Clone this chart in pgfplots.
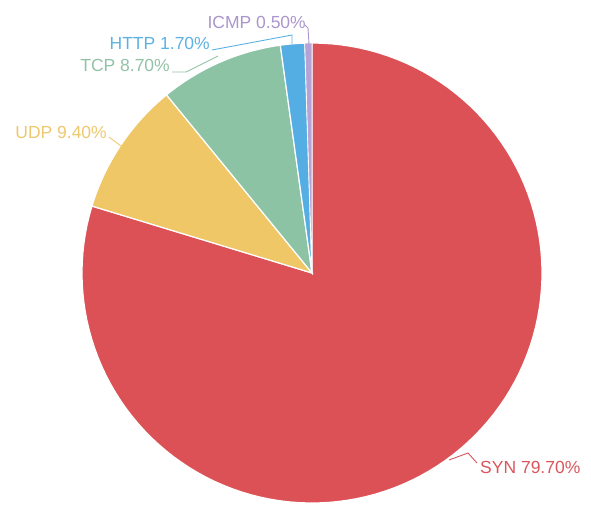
\documentclass[border=0pt]{standalone}
\usepackage{pgfplots}
\pgfplotsset{compat=1.18}
\usepackage{fontspec}
\setmainfont{Liberation Sans}
\definecolor{cSYN}{HTML}{DB5155}
\definecolor{cUDP}{HTML}{EFC767}
\definecolor{cTCP}{HTML}{8DC3A5}
\definecolor{cHTTP}{HTML}{55AEE3}
\definecolor{cICMP}{HTML}{B6A2D4}
\definecolor{tSYN}{HTML}{D8565C}
\definecolor{tUDP}{HTML}{EDC86E}
\definecolor{tTCP}{HTML}{92C2A6}
\definecolor{tHTTP}{HTML}{5CB2E2}
\definecolor{tICMP}{HTML}{AA96CC}
% shares in percent
\def\pSYN{79.7}
\def\pUDP{9.4}
\def\pTCP{8.7}
\def\pHTTP{1.7}
\def\pICMP{0.5}
\pgfmathsetmacro{\aA}{90}
\pgfmathsetmacro{\aB}{\aA-3.6*\pSYN}
\pgfmathsetmacro{\aC}{\aB-3.6*\pUDP}
\pgfmathsetmacro{\aD}{\aC-3.6*\pTCP}
\pgfmathsetmacro{\aE}{\aD-3.6*\pHTTP}
\pgfmathsetmacro{\aF}{\aE-3.6*\pICMP}
\newcommand{\lf}{\fontsize{17.5}{20}\selectfont}
\begin{document}
\begin{tikzpicture}
\useasboundingbox (0,0) rectangle (591pt,504pt);
\begin{axis}[
  at={(0,0)}, anchor=south west,
  width=591pt, height=504pt, scale only axis,
  xmin=0, xmax=591, ymin=0, ymax=504, y dir=reverse,
  hide axis, clip=false,
]
% slices
\addplot[fill=cSYN, draw=white, line width=1.2pt, samples=120, domain=\aB:\aA]
  ({312+230*cos(x)},{273-230*sin(x)}) -- (axis cs:312,273) -- cycle;
\addplot[fill=cUDP, draw=white, line width=1.2pt, samples=30, domain=\aC:\aB]
  ({312+230*cos(x)},{273-230*sin(x)}) -- (axis cs:312,273) -- cycle;
\addplot[fill=cTCP, draw=white, line width=1.2pt, samples=30, domain=\aD:\aC]
  ({312+230*cos(x)},{273-230*sin(x)}) -- (axis cs:312,273) -- cycle;
\addplot[fill=cHTTP, draw=white, line width=1.2pt, samples=10, domain=\aE:\aD]
  ({312+230*cos(x)},{273-230*sin(x)}) -- (axis cs:312,273) -- cycle;
\addplot[fill=cICMP, draw=white, line width=0.6pt, samples=6, domain=\aF:\aE]
  ({312+230*cos(x)},{273-230*sin(x)}) -- (axis cs:312,273) -- cycle;
% leader lines
\addplot[tSYN, line width=0.9pt] coordinates {(449,460) (468,453) (477,463)};
\addplot[tUDP, line width=0.9pt] coordinates {(121,146) (109,137)};
\addplot[tTCP, line width=0.9pt] coordinates {(218,56) (186,72) (172,72)};
\addplot[tHTTP, line width=0.9pt] coordinates {(292,44) (292,35) (212,50)};
\addplot[tICMP, line width=0.9pt] coordinates {(309,44) (308,28) (305,25)};
% labels
\node[anchor=west, text=tSYN, inner sep=0pt, font=\lf] at (axis cs:480,467) {SYN 79.70\%};
\node[anchor=east, text=tUDP, inner sep=0pt, font=\lf] at (axis cs:107,132) {UDP 9.40\%};
\node[anchor=east, text=tTCP, inner sep=0pt, font=\lf] at (axis cs:170,65) {TCP 8.70\%};
\node[anchor=east, text=tHTTP, inner sep=0pt, font=\lf] at (axis cs:210,43) {HTTP 1.70\%};
\node[anchor=east, text=tICMP, inner sep=0pt, font=\lf] at (axis cs:306,22) {ICMP 0.50\%};
\end{axis}
\end{tikzpicture}
\end{document}
